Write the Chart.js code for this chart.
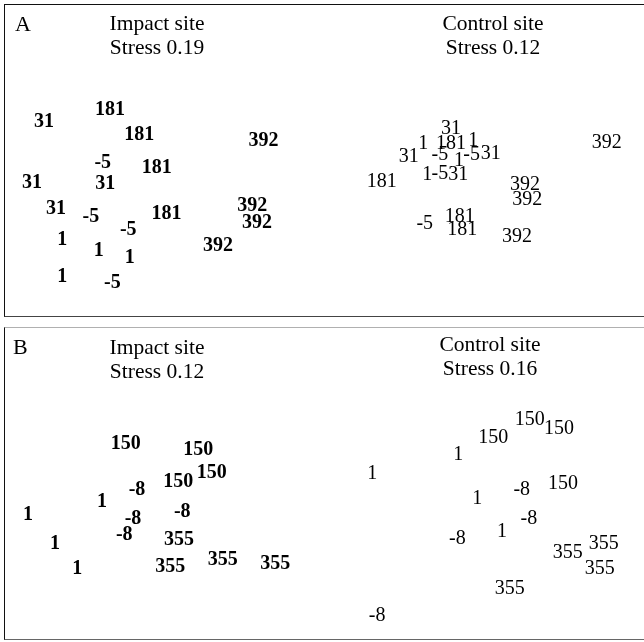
<!DOCTYPE html>
<html>
<head>
<meta charset="utf-8">
<script src="https://cdn.jsdelivr.net/npm/chart.js@4"></script>
<style>
  body { margin: 0; width: 644px; height: 642px; background: #fff; overflow: hidden; position: relative;
         font-family: "Liberation Serif", "DejaVu Serif", serif; color: #000; }
  .panel { position: absolute; left: 4px; width: 660px; height: 311px; border-style: solid; border-width: 1px 1px 1px 1px; }
  #panelA { top: 4px; border-color: #111 #111 #444 #111; }
  #panelB { top: 327px; border-color: #b0b0b0 #111 #666 #111; }
  .panel canvas { position: absolute; top: 0; }
  .title { position: absolute; font-size: 21.5px; line-height: 24px; text-align: center; transform: translateX(-50%); white-space: nowrap; }
  .letter { position: absolute; font-size: 22px; line-height: 24px; }
</style>
</head>
<body>
<div class="panel" id="panelA">
  <canvas id="aImpact" width="318" height="311" style="left:0"></canvas>
  <canvas id="aControl" width="318" height="311" style="left:318px"></canvas>
</div>
<div class="panel" id="panelB">
  <canvas id="bImpact" width="318" height="311" style="left:0"></canvas>
  <canvas id="bControl" width="318" height="311" style="left:318px"></canvas>
</div>
<div class="letter" style="left:15px; top:12px">A</div>
<div class="title" style="left:157px; top:11px">Impact site<br>Stress 0.19</div>
<div class="title" style="left:493px; top:11px">Control site<br>Stress 0.12</div>
<div class="letter" style="left:13px; top:335px">B</div>
<div class="title" style="left:157px; top:335px">Impact site<br>Stress 0.12</div>
<div class="title" style="left:490px; top:332px">Control site<br>Stress 0.16</div>
<script>
// A - impact site (days relative to impact)
const aImpactLabels = ['1', '1', '1', '1', '-5', '-5', '-5', '-5', '31', '31', '31', '31', '181', '181', '181', '181', '392', '392', '392', '392'];
const aImpactX = [-1.28, -0.82, -0.43, -1.28, -0.77, -0.92, -0.45, -0.65, -1.51, -1.66, -0.74, -1.36, -0.68, -0.31, -0.09, 0.03, 1.25, 1.11, 1.17, 0.68];
const aImpactY = [-1.00, -1.14, -1.23, -1.47, -0.01, -0.70, -0.87, -1.55, 0.52, -0.26, -0.28, -0.59, 0.68, 0.35, -0.07, -0.66, 0.28, -0.56, -0.77, -1.07];

// A - control site
const aControlLabels = ['31', '31', '31', '31', '1', '1', '1', '1', '181', '181', '181', '181', '-5', '-5', '-5', '-5', '392', '392', '392', '392'];
const aControlX = [-0.39, -0.92, 0.11, -0.30, -0.74, -0.11, -0.29, -0.69, -0.39, -1.26, -0.28, -0.25, -0.53, -0.13, -0.53, -0.72, 1.57, 0.54, 0.57, 0.44];
const aControlY = [0.43, 0.07, 0.11, -0.16, 0.24, 0.28, 0.02, -0.16, 0.24, -0.25, -0.70, -0.86, 0.10, 0.10, -0.15, -0.79, 0.26, -0.28, -0.48, -0.96];

// B - impact site
const bImpactLabels = ['150', '150', '150', '150', '-8', '-8', '-8', '-8', '1', '1', '1', '1', '355', '355', '355', '355'];
const bImpactX = [-0.48, 0.43, 0.60, 0.18, -0.34, 0.23, -0.39, -0.50, -0.78, -1.71, -1.37, -1.09, 0.19, 0.74, 1.40, 0.08];
const bImpactY = [0.53, 0.46, 0.16, 0.05, -0.06, -0.34, -0.43, -0.64, -0.21, -0.38, -0.75, -1.07, -0.70, -0.95, -1.01, -1.05];

// B - control site
const bControlLabels = ['150', '150', '150', '150', '1', '1', '1', '1', '-8', '-8', '-8', '-8', '355', '355', '355', '355'];
const bControlX = [0.60, 0.97, 0.14, 1.02, -0.30, -1.38, -0.06, 0.25, 0.50, 0.59, -0.31, -1.32, 1.53, 1.08, 1.48, 0.35];
const bControlY = [0.84, 0.73, 0.62, 0.02, 0.39, 0.15, -0.17, -0.59, -0.05, -0.43, -0.69, -1.67, -0.75, -0.86, -1.07, -1.33];

// draws each sample's label at its point instead of a marker
const textLabels = {
  id: 'textLabels',
  afterDatasetsDraw(chart) {
    const ctx = chart.ctx;
    chart.data.datasets.forEach((ds, di) => {
      const meta = chart.getDatasetMeta(di);
      ctx.save();
      ctx.font = (ds.bold ? 'bold ' : '') + '20px "Liberation Serif", serif';
      ctx.fillStyle = '#000';
      ctx.textAlign = 'center';
      ctx.textBaseline = 'middle';
      meta.data.forEach((pt, i) => {
        // +2 so the digits sit centred on the point like the original
        ctx.fillText(ds.data[i].label, pt.x, pt.y + 2);
      });
      ctx.restore();
    });
  }
};

function makeChart(id, labels, xs, ys, bold) {
  const points = xs.map((x, i) => ({ x: x, y: ys[i], label: labels[i] }));
  return new Chart(document.getElementById(id), {
    type: 'scatter',
    data: {
      datasets: [{
        data: points,
        bold: bold,
        pointRadius: 0,
        pointHoverRadius: 0
      }]
    },
    options: {
      responsive: false,
      animation: false,
      layout: { padding: 0 },
      plugins: { legend: { display: false }, tooltip: { enabled: false } },
      scales: {
        x: { type: 'linear', min: -2, max: 2, display: false },
        y: { type: 'linear', min: -2, max: 2, display: false }
      }
    },
    plugins: [textLabels]
  });
}

makeChart('aImpact', aImpactLabels, aImpactX, aImpactY, true);
makeChart('aControl', aControlLabels, aControlX, aControlY, false);
makeChart('bImpact', bImpactLabels, bImpactX, bImpactY, true);
makeChart('bControl', bControlLabels, bControlX, bControlY, false);
</script>
</body>
</html>
